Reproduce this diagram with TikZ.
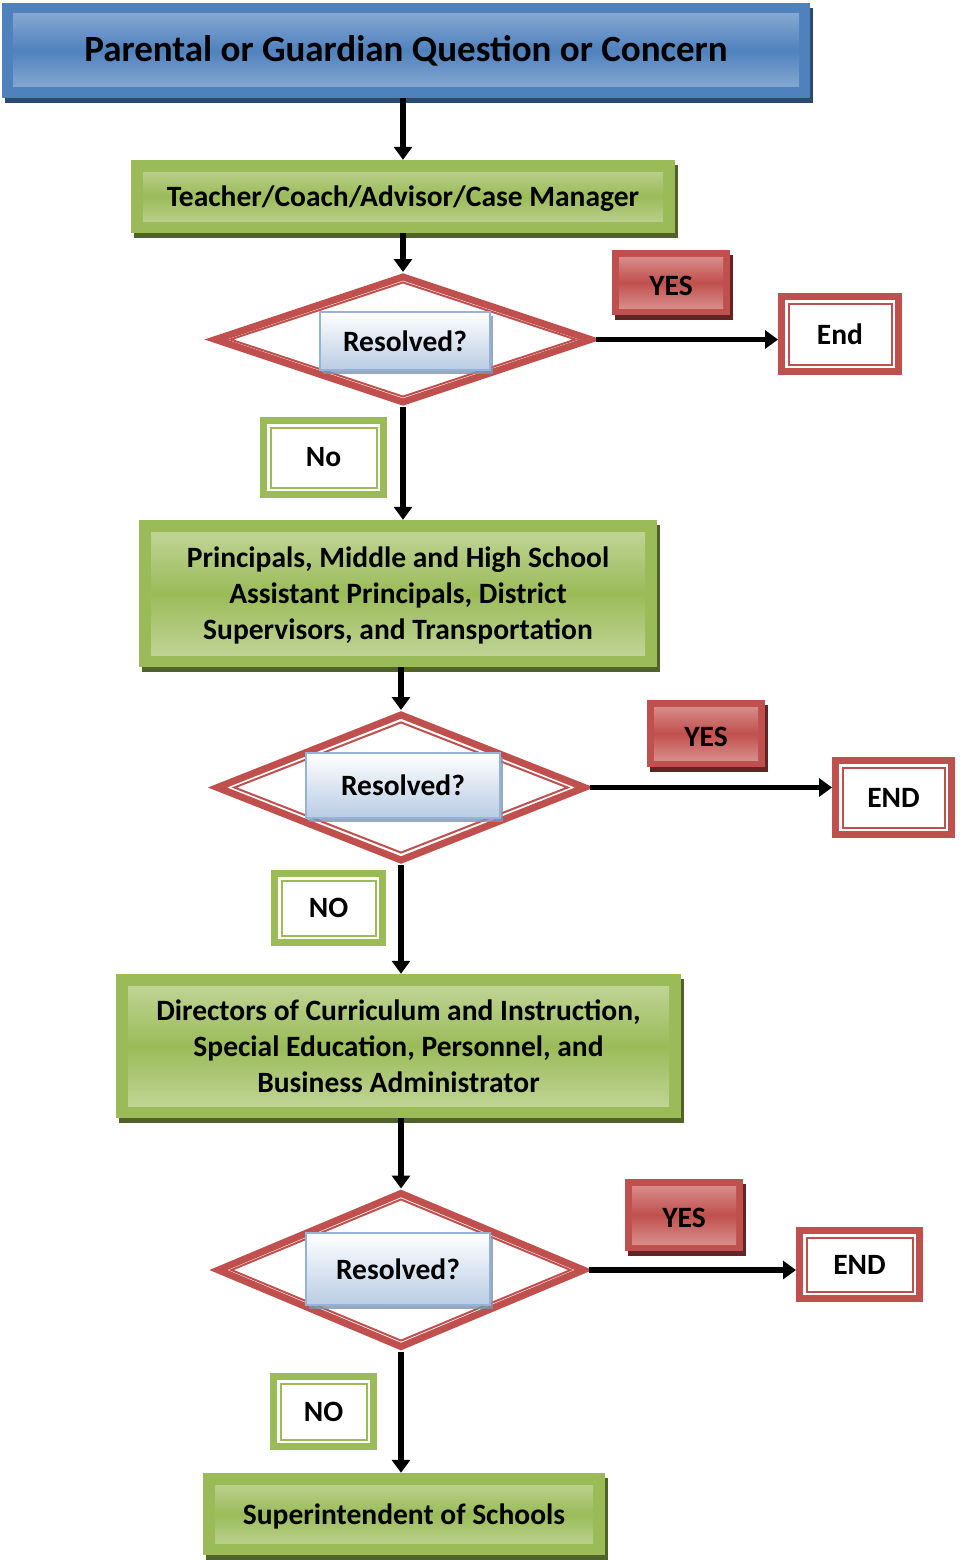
\documentclass[tikz,border=0pt]{standalone}
\usepackage{fontspec}
\setmainfont{Carlito}
\usetikzlibrary{shapes.geometric, arrows.meta, shadows}

\definecolor{boxblue}{HTML}{4F81BD}
\definecolor{boxbluelight}{HTML}{95B3D7}
\definecolor{boxblueshadow}{HTML}{2C4A6E}
\definecolor{boxgreen}{HTML}{9BBB59}
\definecolor{boxgreenlight}{HTML}{C6D9A0}
\definecolor{boxgreenshadow}{HTML}{4F6228}
\definecolor{boxred}{HTML}{C0504D}
\definecolor{boxredlight}{HTML}{DE9C9A}
\definecolor{boxredshadow}{HTML}{632523}
\definecolor{askborder}{HTML}{95B3D7}
\definecolor{askbottom}{HTML}{B8CCE4}
\definecolor{askshadow}{HTML}{7F93B0}

\tikzset{
	boxtext/.style={font=\bfseries\fontsize{29.5}{36}\selectfont, text=black, align=center},
	panel/.style n args={4}{rectangle, inner sep=0pt, fill=#1, boxtext,
		drop shadow={fill=#3, opacity=1, shadow xshift=3pt, shadow yshift=-5pt},
		path picture={\shade[top color=#2, bottom color=#2, middle color=#1]
			([shift={(#4,-#4)}]path picture bounding box.north west) rectangle
			([shift={(-#4,#4)}]path picture bounding box.south east);}},
	titlebox/.style={panel={boxblue}{boxbluelight}{boxblueshadow}{11pt},
		font=\bfseries\fontsize{37}{44}\selectfont},
	stepbox/.style={panel={boxgreen}{boxgreenlight}{boxgreenshadow}{12pt}, text depth=0pt},
	yesbox/.style={panel={boxred}{boxredlight}{boxredshadow}{7pt}, text height=26pt},
	ringbox/.style={rectangle, inner sep=0pt, draw=#1, line width=7pt, fill=white, boxtext,
		path picture={\draw[#1, line width=2pt]
			([shift={(7pt,-7pt)}]path picture bounding box.north west) rectangle
			([shift={(-7pt,7pt)}]path picture bounding box.south east);}},
	endbox/.style={ringbox=boxred},
	nobox/.style={ringbox=boxgreen},
	decision/.style={diamond, draw=boxred, line width=7pt, inner sep=0pt, fill=white},
	decisionline/.style={diamond, draw=boxred, line width=2pt, inner sep=0pt},
	askbox/.style={rectangle, inner sep=0pt, draw=askborder, line width=2pt,
		top color=white, bottom color=askbottom, boxtext,
		drop shadow={fill=askshadow, opacity=0.8, shadow xshift=3pt, shadow yshift=-4pt}},
	flow/.style={-{Triangle[width=18pt,length=13pt]}, line width=5.5pt}
}

\begin{document}
\begin{tikzpicture}[x=1pt, y=-1pt]
	\useasboundingbox (0,0) rectangle (968,1560);

	% main column
	\node (title) [titlebox, minimum width=808pt, minimum height=95pt] at (406,50.5)
		{Parental or Guardian Question or Concern};
	\node (teacher) [stepbox, minimum width=544pt, minimum height=73pt] at (403,196.5)
		{Teacher/Coach/Advisor/Case Manager};

	\node (d1) [decision, minimum width=378pt, minimum height=128pt] at (403,339.5) {};
	\node (d1in) [decisionline, minimum width=346pt, minimum height=115pt] at (403,339.5) {};
	\node (r1) [askbox, minimum width=170pt, minimum height=58pt] at (405,341) {Resolved?};

	\node (principals) [stepbox, minimum width=518pt, minimum height=147pt] at (398,593.5)
		{Principals, Middle and High School\\Assistant Principals, District\\Supervisors, and Transportation};

	\node (d2) [decision, minimum width=370pt, minimum height=148pt] at (401,787.5) {};
	\node (d2in) [decisionline, minimum width=334pt, minimum height=131pt] at (401,787.5) {};
	\node (r2) [askbox, minimum width=194pt, minimum height=65pt] at (403,785.5) {Resolved?};

	\node (directors) [stepbox, minimum width=565pt, minimum height=144pt] at (398.5,1046)
		{Directors of Curriculum and Instruction,\\Special Education, Personnel, and\\Business Administrator};

	\node (d3) [decision, minimum width=368pt, minimum height=156pt] at (401,1270) {};
	\node (d3in) [decisionline, minimum width=340pt, minimum height=142pt] at (401,1270) {};
	\node (r3) [askbox, minimum width=184pt, minimum height=72pt] at (398,1269) {Resolved?};

	\node (super) [stepbox, minimum width=402pt, minimum height=82pt] at (404,1514)
		{Superintendent of Schools};

	% yes / no labels and ends
	\node (yes1) [yesbox, minimum width=118pt, minimum height=65pt] at (671,282.5) {YES};
	\node (end1) [endbox, minimum width=117pt, minimum height=75pt] at (840,334) {End};
	\node (no1) [nobox, minimum width=120pt, minimum height=74pt] at (323.5,457.5) {No};

	\node (yes2) [yesbox, minimum width=118pt, minimum height=67pt] at (706,733.5) {YES};
	\node (end2) [endbox, minimum width=116pt, minimum height=74pt] at (893.5,797.5) {END};
	\node (no2) [nobox, minimum width=108pt, minimum height=69pt] at (328.5,908) {NO};

	\node (yes3) [yesbox, minimum width=118pt, minimum height=72pt] at (684,1215) {YES};
	\node (end3) [endbox, minimum width=120pt, minimum height=68pt] at (859.5,1264.5) {END};
	\node (no3) [nobox, minimum width=100pt, minimum height=70pt] at (323.5,1411.5) {NO};

	\path[flow]
		(title.south -| d1.north) edge (d1.north |- teacher.north)
		(teacher.south -| d1.north) edge (d1.north)
		(d1.south) edge (d1.south |- principals.north)
		(principals.south -| d2.north) edge (d2.north)
		(d2.south) edge (d2.south |- directors.north)
		(directors.south -| d3.north) edge (d3.north)
		(d3.south) edge (d3.south |- super.north)
		(d1.east) edge (d1.east -| end1.west)
		(d2.east) edge (d2.east -| end2.west)
		(d3.east) edge (d3.east -| end3.west);
\end{tikzpicture}
\end{document}
